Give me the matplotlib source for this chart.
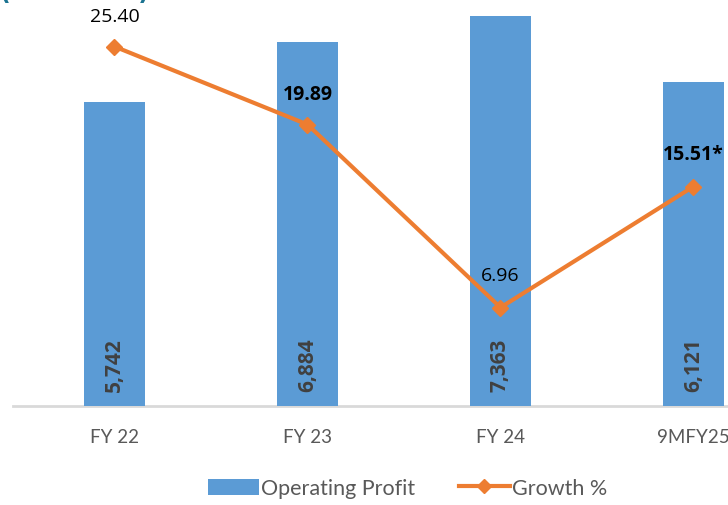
import matplotlib.pyplot as plt
from matplotlib.lines import Line2D
from matplotlib.patches import Patch

categories = ["FY 22", "FY 23", "FY 24", "9MFY25"]
operating_profit = [5742, 6884, 7363, 6121]
growth = [25.40, 19.89, 6.96, 15.51]
growth_labels = ["25.40", "19.89", "6.96", "15.51*"]
growth_bold = [False, True, False, True]

BLUE = "#5B9BD5"
ORANGE = "#ED7D31"


def main() -> None:
    plt.rcParams["font.family"] = ["Lato", "DejaVu Sans"]
    fig = plt.figure(figsize=(7.28, 5.06), dpi=100)
    ax = fig.add_axes([13 / 728, 99 / 506, 715 / 728, 407 / 506])
    ax2 = ax.twinx()

    x = list(range(len(categories)))
    ax.bar(x, operating_profit, width=0.316, color=BLUE, zorder=2)
    ax.set_xlim((13 - 114.5) / 193, (728 - 114.5) / 193)
    ax.set_ylim(0, 7688)

    # value labels rotated inside the bars
    for xi, v in zip(x, operating_profit):
        ax.text(xi, 283, f"{v:,}", rotation=90, ha="center", va="bottom",
                fontsize=15, fontweight="bold", color="#404040", zorder=3,
                family=["Open Sans", "DejaVu Sans"])

    ax2.plot(x, growth, color=ORANGE, lw=3, marker="D", markersize=8, zorder=4)
    ax2.set_ylim(0, 28.76)
    offsets = [2.19, 2.19, 2.33, 2.33]
    for xi, g, lab, b, off in zip(x, growth, growth_labels, growth_bold, offsets):
        ax2.text(xi, g + off, lab, ha="center", va="center", fontsize=14,
                 fontweight="bold" if b else "normal", color="black",
                 family=["Open Sans", "DejaVu Sans"])

    for a in (ax, ax2):
        for s in ("top", "right", "left", "bottom"):
            a.spines[s].set_visible(False)
        a.set_yticks([])
    ax.axhline(0, color="#D9D9D9", lw=2, zorder=1, clip_on=False)

    ax.set_xticks(x)
    ax.set_xticklabels(categories, fontsize=13.5, color="#595959")
    ax.tick_params(axis="x", length=0, pad=16)

    # unit note, cut off by the top edge as in the source
    fig.text(0.0, 1.013, "(\u20b9 in crore)", fontsize=17, fontweight="bold",
             color="#1B7391", ha="left", va="center",
             family=["DejaVu Sans"])

    handles = [Patch(facecolor=BLUE, label="Operating Profit"),
               Line2D([], [], color=ORANGE, lw=3, marker="D", markersize=7,
                      label="Growth %")]
    fig.legend(handles=handles, loc="center", bbox_to_anchor=(0.56, 0.033),
               ncol=2, frameon=False, fontsize=15.5, labelcolor="#595959",
               handlelength=2.4, handleheight=0.8, columnspacing=2.0,
               handletextpad=0.1)

    fig.savefig("out.png", dpi=100)


if __name__ == "__main__":
    main()
